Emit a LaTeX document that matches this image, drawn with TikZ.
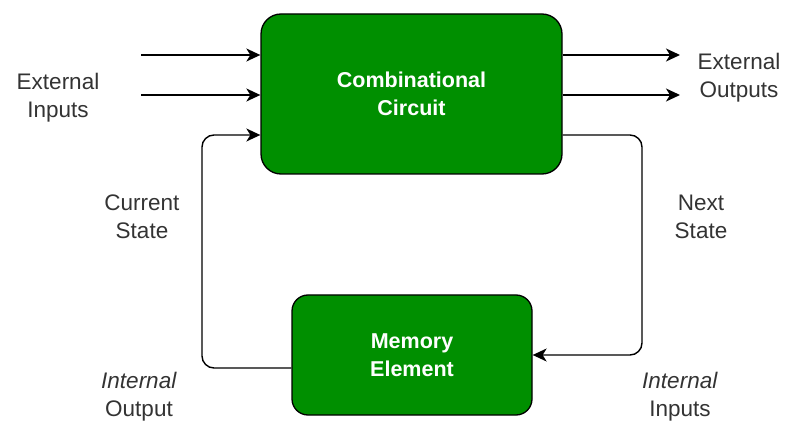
\documentclass[tikz,border=0pt]{standalone}
\usepackage{fontspec}
\setmainfont{Liberation Sans}
\usetikzlibrary{arrows.meta}
\definecolor{boxgreen}{RGB}{0,143,0}
\definecolor{labelgray}{RGB}{51,51,51}
\begin{document}
\begin{tikzpicture}[x=1pt,y=-1pt,
  block/.style={draw=black, fill=boxgreen, line width=1.3pt,
    text=white, font=\fontsize{21.5}{28}\selectfont\bfseries, align=center, inner sep=0pt},
  lbl/.style={text=labelgray, font=\fontsize{22.5}{28}\selectfont, align=center, inner sep=0pt},
  wire/.style={line width=1.4pt, rounded corners=12pt,
    -{Stealth[length=14pt,width=13pt,inset=4pt]}}]
\useasboundingbox (0,0) rectangle (785,422);

% the two blocks
\node[block, rounded corners=20pt, minimum width=301pt, minimum height=160pt] (comb) at (411.5,94) {Combinational\\Circuit};
\node[block, rounded corners=16pt, minimum width=240pt, minimum height=120pt] (mem) at (412,355) {Memory\\Element};

% free ends and bends of the wires
\coordinate (inA) at (141,55);
\coordinate (inB) at (141,95);
\coordinate (outA) at (680,55);
\coordinate (outB) at (680,95);
\coordinate (fbTop) at (202,135);
\coordinate (fbBot) at (202,368);
\coordinate (nsTop) at (642,135);
\coordinate (nsBot) at (642,355);

% external inputs and outputs
\draw[wire] (inA) -- (comb.west |- inA);
\draw[wire] (inB) -- (comb.west |- inB);
\draw[wire] (comb.east |- outA) -- (outA);
\draw[wire] (comb.east |- outB) -- (outB);

% current state feedback
\draw[wire] (mem.west |- fbBot) -- (fbBot) -- (fbTop) -- (comb.west |- fbTop);
% next state path
\draw[wire] (comb.east |- nsTop) -- (nsTop) -- (nsBot) -- (mem.east |- nsBot);

% labels
\node[lbl] (extIn) at (58,98) {External\\Inputs};
\node[lbl] (extOut) at (739,78) {External\\Outputs};
\node[lbl] (curState) at (142,217) {Current\\State};
\node[lbl] (nextState) at (701,217) {Next\\State};
\node[lbl] (intOut) at (139,397) {\textit{Internal}\\Output};
\node[lbl] (intIn) at (680,397) {\textit{Internal}\\Inputs};
\end{tikzpicture}
\end{document}
